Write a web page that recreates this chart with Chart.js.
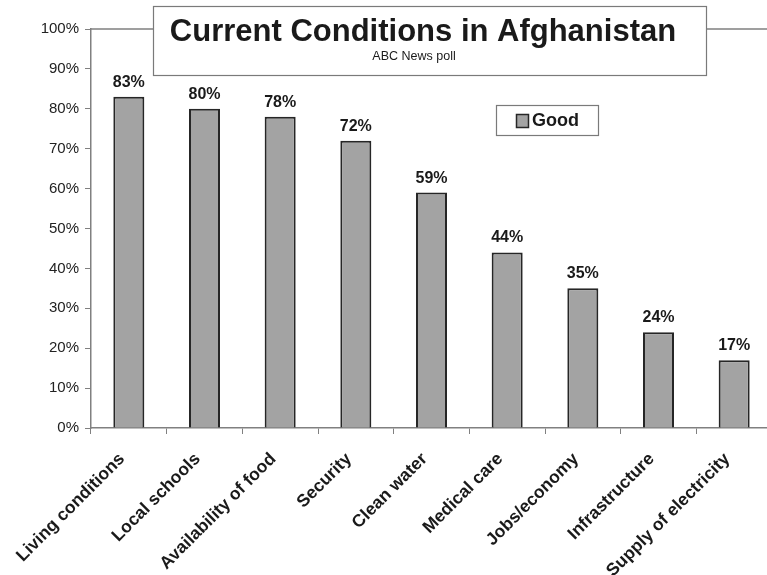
<!DOCTYPE html>
<html lang="en">
  <head>
    <meta charset="UTF-8" />
    <title>Current Conditions in Afghanistan</title>
    <script src="https://cdn.jsdelivr.net/npm/chart.js"></script>
    <style>
      html,
      body {
        margin: 0;
        padding: 0;
        background-color: #fff;
        overflow: hidden;
      }
      #chartContainer {
        width: 780px;
        height: 575px;
      }
    </style>
  </head>
  <body>
    <div id="chartContainer">
      <canvas id="conditionsChart"></canvas>
    </div>

    <script>
      // Data
      const categories = [
        "Living conditions",
        "Local schools",
        "Availability of food",
        "Security",
        "Clean water",
        "Medical care",
        "Jobs/economy",
        "Infrastructure",
        "Supply of electricity",
      ];
      const goodValues = [83, 80, 78, 72, 59, 44, 35, 24, 17];
      const seriesName = "Good";
      const chartTitle = "Current Conditions in Afghanistan";
      const chartSubtitle = "ABC News poll";

      const FONT = "Arial, 'Liberation Sans', Helvetica, sans-serif";
      const barFill = "#a3a3a3";
      const barBorder = "#262626";
      const axisColor = "#808080";

      // Title box, legend box and value labels drawn by hand
      const decorPlugin = {
        id: "decor",
        beforeDatasetsDraw(chart) {
          const { ctx, chartArea } = chart;
          ctx.save();
          ctx.strokeStyle = axisColor;
          ctx.lineWidth = 1.5;
          ctx.beginPath();
          ctx.moveTo(chartArea.left, chartArea.top);
          ctx.lineTo(chartArea.right, chartArea.top);
          ctx.lineTo(chartArea.right, chartArea.bottom);
          ctx.stroke();
          ctx.restore();
        },
        afterDraw(chart) {
          const ctx = chart.ctx;
          ctx.save();

          // title box
          ctx.fillStyle = "#fff";
          ctx.fillRect(153, 6, 553, 69);
          ctx.strokeStyle = "#7a7a7a";
          ctx.lineWidth = 1.2;
          ctx.strokeRect(153.5, 6.5, 553, 69);
          ctx.fillStyle = "#1a1a1a";
          ctx.textAlign = "center";
          ctx.textBaseline = "middle";
          ctx.font = "bold 31px " + FONT;
          ctx.fillText(chartTitle, 423, 32);
          ctx.font = "12.5px " + FONT;
          ctx.fillText(chartSubtitle, 414, 57);

          // legend box
          ctx.fillStyle = "#fff";
          ctx.fillRect(496, 105, 102, 30);
          ctx.strokeStyle = "#7a7a7a";
          ctx.strokeRect(496.5, 105.5, 102, 30);
          ctx.fillStyle = barFill;
          ctx.fillRect(516, 114, 12, 13);
          ctx.strokeStyle = barBorder;
          ctx.lineWidth = 1.5;
          ctx.strokeRect(516.5, 114.5, 12, 13);
          ctx.fillStyle = "#1a1a1a";
          ctx.textAlign = "left";
          ctx.font = "bold 18px " + FONT;
          ctx.fillText(seriesName, 532, 121);

          // value labels over bars
          const meta = chart.getDatasetMeta(0);
          ctx.textAlign = "center";
          ctx.textBaseline = "alphabetic";
          ctx.font = "bold 16px " + FONT;
          meta.data.forEach((bar, i) => {
            ctx.fillText(goodValues[i] + "%", bar.x, bar.y - 10);
          });
          ctx.restore();
        },
      };

      const ctx = document.getElementById("conditionsChart").getContext("2d");
      new Chart(ctx, {
        type: "bar",
        data: {
          labels: categories,
          datasets: [
            {
              label: seriesName,
              data: goodValues,
              backgroundColor: barFill,
              borderColor: barBorder,
              borderWidth: 2,
              categoryPercentage: 1,
              barPercentage: 0.41,
            },
          ],
        },
        options: {
          responsive: true,
          maintainAspectRatio: false,
          animation: false,
          layout: {
            padding: { top: 29, right: 8, left: 0, bottom: 0 },
          },
          scales: {
            y: {
              min: 0,
              max: 100,
              ticks: {
                stepSize: 10,
                color: "#222",
                font: { family: FONT, size: 15 },
                padding: 6,
                callback: function (value) {
                  return value + "%";
                },
              },
              grid: {
                drawOnChartArea: false,
                tickLength: 6,
                color: axisColor,
              },
              border: { color: axisColor, width: 1.5 },
              afterFit: function (scale) {
                scale.width = 91;
              },
            },
            x: {
              ticks: {
                color: "#1a1a1a",
                font: { family: FONT, size: 17.5, weight: "bold" },
                minRotation: 45,
                maxRotation: 45,
                autoSkip: false,
                padding: 8,
                // trailing spaces nudge the rotated labels back along their slant
                callback: function (value, index) {
                  return categories[index] + "  ";
                },
              },
              grid: {
                drawOnChartArea: false,
                tickLength: 6,
                color: axisColor,
              },
              border: { color: axisColor, width: 1.5 },
              afterFit: function (scale) {
                scale.height = 147;
              },
            },
          },
          plugins: {
            legend: { display: false },
            tooltip: { enabled: false },
          },
        },
        plugins: [decorPlugin],
      });
    </script>
  </body>
</html>
